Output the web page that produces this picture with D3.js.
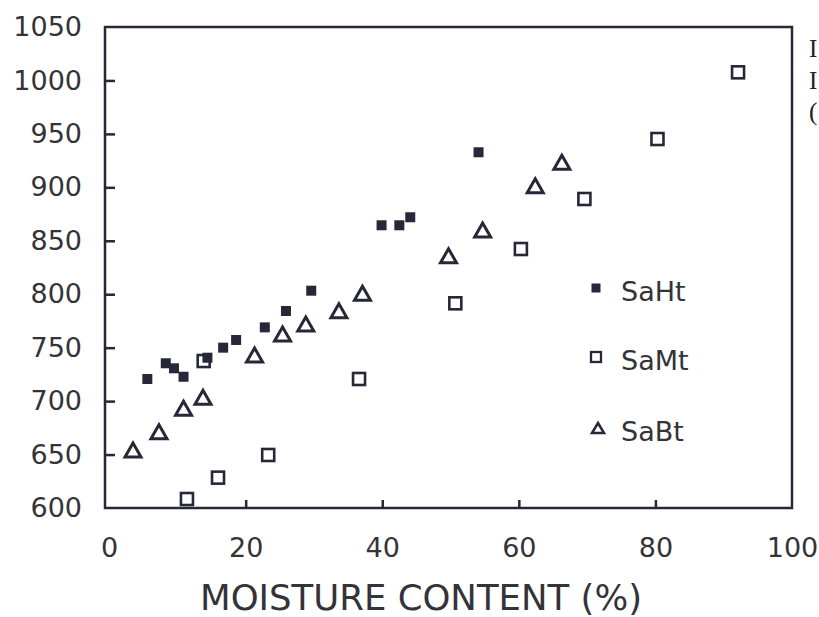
<!DOCTYPE html>
<html>
<head>
<meta charset="utf-8">
<script src="https://cdn.jsdelivr.net/npm/d3@7"></script>
<style>
  html, body { margin: 0; padding: 0; background: #fff; overflow: hidden; }
  svg { display: block; }
</style>
</head>
<body>
<svg id="chart" width="819" height="617"></svg>
<script>
// ---- data ----
const seriesNames = ["SaHt", "SaMt", "SaBt"];

const saHtX = [5.6, 8.3, 9.5, 10.9, 14.4, 16.7, 18.6, 22.8, 25.9, 29.6, 39.9, 42.5, 44.1, 54.1];
const saHtY = [720.7, 735.4, 730.7, 722.8, 740.6, 750.0, 757.2, 769.0, 784.3, 803.3, 864.5, 864.5, 872.0, 932.8];

const saMtX = [11.4, 15.95, 23.3, 13.85, 36.6, 50.7, 60.3, 69.6, 80.3, 92.1];
const saMtY = [608.4, 628.4, 649.6, 737.5, 720.7, 791.5, 842.3, 889.1, 945.2, 1007.6];

const saBtX = [3.5, 7.3, 10.9, 13.75, 21.3, 25.4, 28.8, 33.65, 37.1, 49.7, 54.7, 62.4, 66.3];
const saBtY = [654.3, 671.4, 693.3, 703.6, 743.1, 762.8, 772.1, 784.6, 800.9, 836.0, 860.1, 901.5, 923.4];

const xTicks = [0, 20, 40, 60, 80, 100];
const yTicks = [600, 650, 700, 750, 800, 850, 900, 950, 1000, 1050];
const xTitle = "MOISTURE CONTENT (%)";
const captionFragments = ["I", "I", "("];

// ---- drawing ----
const ink = "#262838";
const textCol = "#333338";
const font = "'DejaVu Sans', sans-serif";

const svg = d3.select("#chart");
const pLeft = 105, pRight = 792, pTop = 27, pBottom = 508;

const x = d3.scaleLinear().domain([-0.6, 100]).range([pLeft, pRight]);
const y = d3.scaleLinear().domain([600, 1050]).range([pBottom, pTop]);

// frame
svg.append("rect")
  .attr("x", pLeft).attr("y", pTop)
  .attr("width", pRight - pLeft).attr("height", pBottom - pTop)
  .attr("fill", "none").attr("stroke", ink).attr("stroke-width", 2.5);

// y axis
const gy = svg.append("g").attr("transform", `translate(${pLeft},0)`)
  .call(d3.axisLeft(y).tickValues(yTicks).tickSize(-10).tickPadding(23).tickFormat(d3.format("d")));
gy.select(".domain").remove();
gy.selectAll("line").attr("stroke", ink).attr("stroke-width", 2.5)
  .filter(d => d === 600 || d === 1050).remove();
gy.selectAll("text").attr("fill", textCol).style("font-family", font).style("font-size", "27px");

// x axis
const gx = svg.append("g").attr("transform", `translate(0,${pBottom})`)
  .call(d3.axisBottom(x).tickValues(xTicks).tickSize(-8).tickPadding(30).tickFormat(d3.format("d")));
gx.select(".domain").remove();
gx.selectAll("line").attr("stroke", ink).attr("stroke-width", 2.5)
  .filter(d => d === 0 || d === 100).remove();
gx.selectAll("text").attr("fill", textCol).style("font-family", font).style("font-size", "27px");

// x title
svg.append("text")
  .attr("x", 200).attr("y", 610)
  .attr("textLength", 442).attr("lengthAdjust", "spacingAndGlyphs")
  .attr("fill", textCol).style("font-family", font).style("font-size", "36px")
  .text(xTitle);

// markers
function tri(cx, cy, w, h) {
  return `M${cx - w / 2},${cy + h / 2}L${cx + w / 2},${cy + h / 2}L${cx},${cy - h / 2}Z`;
}

const saMt = saMtX.map((v, i) => ({ x: v, y: saMtY[i] }));
const saHt = saHtX.map((v, i) => ({ x: v, y: saHtY[i] }));
const saBt = saBtX.map((v, i) => ({ x: v, y: saBtY[i] }));

svg.append("g").selectAll("rect").data(saMt).join("rect")
  .attr("x", d => x(d.x) - 6).attr("y", d => y(d.y) - 6)
  .attr("width", 12).attr("height", 12)
  .attr("fill", "#fff").attr("stroke", ink).attr("stroke-width", 2.6);

svg.append("g").selectAll("path").data(saBt).join("path")
  .attr("d", d => tri(x(d.x), y(d.y), 16, 14))
  .attr("fill", "none").attr("stroke", ink).attr("stroke-width", 3).attr("stroke-linejoin", "miter");

svg.append("g").selectAll("rect").data(saHt).join("rect")
  .attr("x", d => x(d.x) - 5).attr("y", d => y(d.y) - 5)
  .attr("width", 10).attr("height", 10)
  .attr("fill", ink);

// legend
const legY = [288, 357, 428];
const lg = svg.append("g");
lg.append("rect").attr("x", 596 - 4.5).attr("y", legY[0] - 4.5).attr("width", 9).attr("height", 9).attr("fill", ink);
lg.append("rect").attr("x", 596 - 5).attr("y", legY[1] - 5).attr("width", 10).attr("height", 10)
  .attr("fill", "none").attr("stroke", ink).attr("stroke-width", 2.3);
lg.append("path").attr("d", tri(598, legY[2], 12, 10))
  .attr("fill", "none").attr("stroke", ink).attr("stroke-width", 2.5);
lg.selectAll("text").data(seriesNames).join("text")
  .attr("x", 621).attr("y", (d, i) => legY[i] + 13)
  .attr("fill", textCol).style("font-family", font).style("font-size", "27px")
  .text(d => d);

// caption fragments at the right edge (the reference is cropped there)
svg.append("g").selectAll("text").data(captionFragments).join("text")
  .attr("x", 809).attr("y", (d, i) => [57, 89, 120][i])
  .attr("fill", "#222").style("font-family", "'Liberation Serif', serif").style("font-size", "25px")
  .text(d => d);
</script>
</body>
</html>
